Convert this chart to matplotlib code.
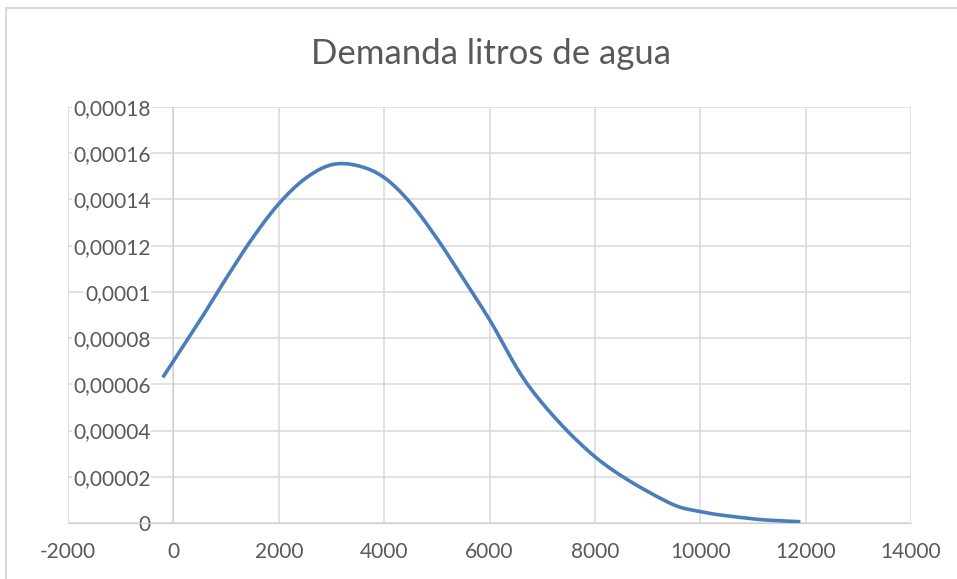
import matplotlib
matplotlib.use("Agg")
import numpy as np
import matplotlib.pyplot as plt
from matplotlib.ticker import FuncFormatter, MultipleLocator
from matplotlib.lines import Line2D

title = "Demanda litros de agua"
litros = [-200, 500, 1000, 1500, 2000, 2500, 3000, 3500, 4000, 4500,
          5000, 5500, 6000, 6800, 8000, 9300, 10000, 11000, 11500, 11900]
densidad = [6.30e-5, 8.75e-5, 1.058e-4, 1.232e-4, 1.381e-4, 1.490e-4, 1.550e-4,
            1.546e-4, 1.495e-4, 1.385e-4, 1.232e-4, 1.058e-4, 8.8e-5,
            5.76e-5, 2.87e-5, 1.0e-5, 4.9e-6, 1.8e-6, 1.0e-6, 5.6e-7]
xlim = (-2000, 14000)
ylim = (0, 0.00018)

plt.rcParams['font.family'] = ['Lato', 'DejaVu Sans']

W, H = 957, 579
fig = plt.figure(figsize=(W / 100, H / 100), dpi=100)
ax = fig.add_axes([68 / W, 1 - 523 / H, (911 - 68) / W, (523 - 107) / H])

grid_c = '#d9d9d9'
text_c = '#595959'


def smooth(xs, ys, n=30, t=0.5):
    # Excel-like "smoothed line": cardinal (Catmull-Rom) spline through the data points
    x = np.asarray(xs, float)
    y = np.asarray(ys, float)
    px = np.concatenate([[x[0]], x, [x[-1]]])
    py = np.concatenate([[y[0]], y, [y[-1]]])
    ox, oy = [], []
    for i in range(1, len(px) - 2):
        p0 = np.array([px[i - 1], py[i - 1]])
        p1 = np.array([px[i], py[i]])
        p2 = np.array([px[i + 1], py[i + 1]])
        p3 = np.array([px[i + 2], py[i + 2]])
        c1 = p1 + (p2 - p0) * t / 3
        c2 = p2 - (p3 - p1) * t / 3
        s = np.linspace(0, 1, n)[:, None]
        b = ((1 - s) ** 3) * p1 + 3 * ((1 - s) ** 2) * s * c1 + 3 * (1 - s) * s ** 2 * c2 + s ** 3 * p2
        ox.extend(b[:, 0])
        oy.extend(b[:, 1])
    return ox, oy


sx, sy = smooth(litros, densidad)
ax.plot(sx, sy, color='#4a7ebb', lw=2.6, solid_capstyle='butt', zorder=3)

ax.set_xlim(*xlim)
ax.set_ylim(*ylim)
ax.xaxis.set_major_locator(MultipleLocator(2000))
ax.yaxis.set_major_locator(MultipleLocator(0.00002))
ax.grid(True, color=grid_c, lw=1.1, zorder=0)
ax.set_axisbelow(True)


def yfmt(v, pos):
    if abs(v) < 1e-12:
        return '0'
    s = f"{v:.5f}".rstrip('0').rstrip('.')
    return s.replace('.', ',')


ax.yaxis.set_major_formatter(FuncFormatter(yfmt))
ax.xaxis.set_major_formatter(FuncFormatter(lambda v, p: f"{int(round(v))}"))

for s in ['top', 'right']:
    ax.spines[s].set_visible(False)
ax.spines['left'].set_position(('data', 0))
ax.spines['left'].set_color('#cfcfcf')
ax.spines['bottom'].set_color('#cfcfcf')
ax.spines['left'].set_zorder(1)

ax.tick_params(axis='y', length=0, pad=16.5, labelsize=15, labelcolor=text_c)
ax.tick_params(axis='x', length=0, pad=14, labelsize=15, labelcolor=text_c)
for lab in ax.get_yticklabels():
    lab.set_bbox(dict(facecolor='white', edgecolor='none', pad=0.5))

fig.text(491 / W, 1 - 54 / H, title, ha='center', va='center', fontsize=25, color=text_c)

# chart frame
fig.add_artist(Line2D([6 / W, 6 / W], [0, 1 - 8 / H], color=grid_c, lw=1.5, transform=fig.transFigure))
fig.add_artist(Line2D([6 / W, 1], [1 - 8 / H, 1 - 8 / H], color=grid_c, lw=1.5, transform=fig.transFigure))

fig.savefig('out.png', dpi=100)
